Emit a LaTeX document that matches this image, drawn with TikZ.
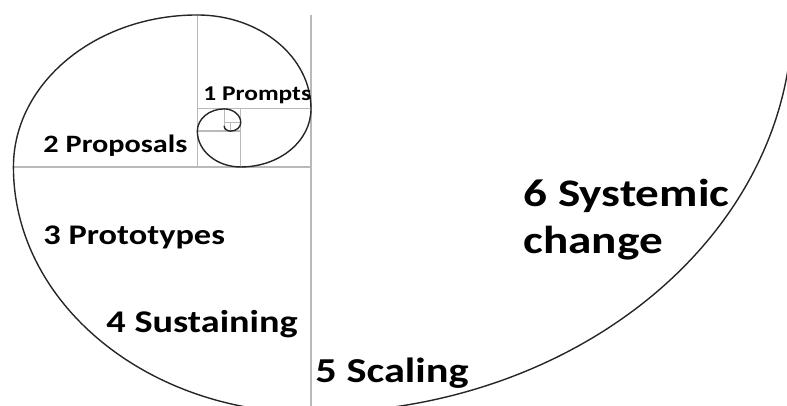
\documentclass[tikz,border=0pt]{standalone}
\usepackage{fontspec}
\setmainfont{Carlito}
\usetikzlibrary{positioning}
\tikzset{
    %Define style for the stage labels
    stagetext/.style={
           anchor=base west,
           inner sep=0pt,
           xscale=1.21,
           font=\bfseries\fontsize{#1}{23.5}\selectfont},
    % Define style for the square lines
    guide/.style={
           draw=gray!55,
           line width=0.6pt},
    % Define style for the spiral
    spiral/.style={
           draw=black!85,
           line width=0.7pt}
}
\begin{document}
\begin{tikzpicture}[x=0.5pt,y=0.5pt]
\useasboundingbox (0,0) rectangle (787,406);
\clip (0,0) rectangle (787,406);

 %squares and spiral
\begin{scope}[shift={(311,239)},xscale=1.21]
\draw[guide] (0,152) -- (0,-260);
\draw[guide] (-245.9,0) -- (0,0);
\draw[guide] (-93.9,0) -- (-93.9,152);
\draw[guide] (-93.9,58.1) -- (0,58.1);
\draw[guide] (-58.1,0) -- (-58.1,58.1);
\draw[guide] (-93.9,35.9) -- (-58.1,35.9);
\draw[guide] (-71.7,35.9) -- (-71.7,58.1);
\draw[guide] (-71.7,44.4) -- (-58.1,44.4);
\draw[guide] (-66.6,35.9) -- (-66.6,44.4);
\draw[spiral] (397.9,152) \foreach \i in {0,...,9}{
    arc[start angle={-90*\i}, end angle={-90*\i-90}, radius={397.9/1.618^\i}]};
\end{scope}

 %labels
\node[stagetext=10.5] (prompts) at (203,305) {1 Prompts};
\node[stagetext=12.5] (proposals) at (43,253) {2 Proposals};
\node[stagetext=14.2] (prototypes) at (43,161) {3 Prototypes};
\node[stagetext=15.8] (sustaining) at (106,73) {4 Sustaining};
\node[stagetext=17.5] (scaling) at (315,23) {5 Scaling};
\node[stagetext=19.5, anchor=north west, align=left] (systemic) at (523,227) {6 Systemic\\change};

\end{tikzpicture}
\end{document}
